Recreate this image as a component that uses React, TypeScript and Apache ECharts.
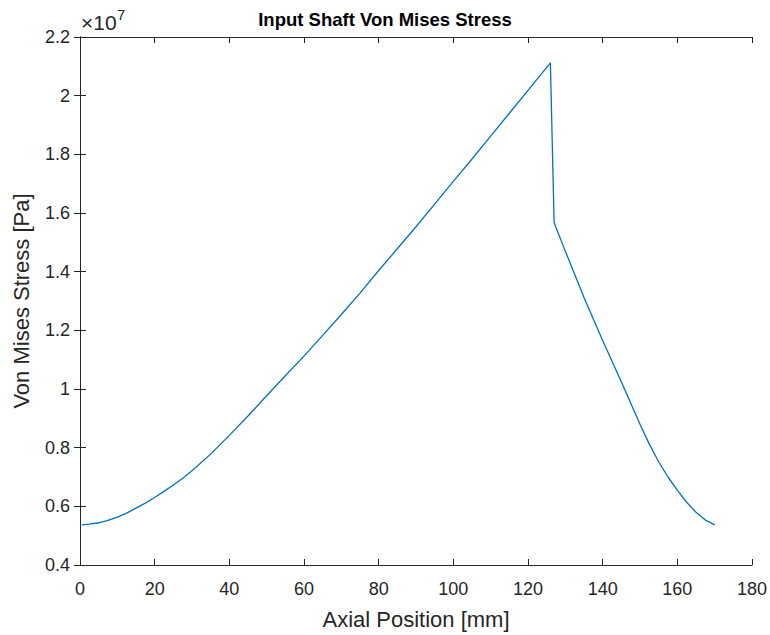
import React, { useEffect, useRef } from "react";
import * as echarts from "echarts";

const positionsMm = [0.5, 2.5, 5, 7.5, 10, 12.5, 15, 17.5, 20, 22.5, 25, 27.5, 30, 35, 40, 45, 50, 55, 60, 65, 70, 75, 80, 85, 90, 95, 100, 105, 110, 115, 120, 126, 127, 130, 135, 140, 145, 147.5, 150, 152.5, 155, 157.5, 160, 162.5, 165, 167.5, 170];
const stressPa = [0.537e7, 0.539e7, 0.544e7, 0.552e7, 0.563e7, 0.577e7, 0.594e7, 0.611e7, 0.630e7, 0.651e7, 0.673e7, 0.696e7, 0.721e7, 0.778e7, 0.842e7, 0.908e7, 0.977e7, 1.045e7, 1.112e7, 1.183e7, 1.254e7, 1.327e7, 1.404e7, 1.478e7, 1.553e7, 1.630e7, 1.708e7, 1.784e7, 1.862e7, 1.940e7, 2.018e7, 2.112e7, 1.567e7, 1.470e7, 1.312e7, 1.165e7, 1.025e7, 0.952e7, 0.880e7, 0.812e7, 0.752e7, 0.700e7, 0.655e7, 0.614e7, 0.580e7, 0.553e7, 0.537e7];

const title = "Input Shaft Von Mises Stress";
const xLabel = "Axial Position [mm]";
const yLabel = "Von Mises Stress [Pa]";
const xMin = 0, xMax = 180, xStep = 20;
const yMin = 0.4e7, yMax = 2.2e7, yStep = 0.2e7;
const yScale = 1e7;
const exponentBase = "×10";
const exponent = "7";

const FONT = "'Liberation Sans', Arial, Helvetica, sans-serif";
const AX = "#262626";

export default function App() {
  const ref = useRef<HTMLDivElement>(null);
  useEffect(() => {
    document.body.style.margin = "0";
    const chart = echarts.init(ref.current!, null, { renderer: "svg" });
    const fmtY = (v: number) => {
      const r = Math.round((v / yScale) * 10) / 10;
      return String(r);
    };
    const mirrorAxis = {
      show: true,
      axisLine: { show: true, lineStyle: { color: AX, width: 1 } },
      axisTick: { show: true, inside: true, length: 6, lineStyle: { color: AX } },
      axisLabel: { show: false },
      splitLine: { show: false },
    };
    chart.setOption({
      animation: false,
      backgroundColor: "#ffffff",
      title: {
        text: title,
        left: "center",
        top: 5,
        textStyle: { fontFamily: FONT, fontSize: 18.5, fontWeight: "bold", color: "#000" },
      },
      grid: { left: 80, right: 17, top: 37, bottom: 68, show: false },
      xAxis: [
        {
          type: "value",
          min: xMin,
          max: xMax,
          interval: xStep,
          position: "bottom",
          name: xLabel,
          nameLocation: "middle",
          nameGap: 43,
          nameTextStyle: { fontFamily: FONT, fontSize: 22, color: AX },
          axisLine: { show: true, onZero: false, lineStyle: { color: AX, width: 1 } },
          axisTick: { show: true, inside: true, length: 6, lineStyle: { color: AX } },
          axisLabel: { fontFamily: FONT, fontSize: 18, color: AX, margin: 15 },
          splitLine: { show: false },
        },
        { type: "value", min: xMin, max: xMax, interval: xStep, position: "top", ...mirrorAxis },
      ],
      yAxis: [
        {
          type: "value",
          min: yMin,
          max: yMax,
          interval: yStep,
          position: "left",
          name: yLabel,
          nameLocation: "middle",
          nameGap: 48,
          nameTextStyle: { fontFamily: FONT, fontSize: 22, color: AX },
          axisLine: { show: true, onZero: false, lineStyle: { color: AX, width: 1 } },
          axisTick: { show: true, inside: true, length: 6, lineStyle: { color: AX } },
          axisLabel: { fontFamily: FONT, fontSize: 18, color: AX, margin: 10, formatter: fmtY },
          splitLine: { show: false },
        },
        { type: "value", min: yMin, max: yMax, interval: yStep, position: "right", ...mirrorAxis },
      ],
      graphic: [
        {
          type: "text",
          x: 81,
          y: 12,
          style: {
            text: exponentBase,
            fontFamily: FONT,
            fontSize: 21,
            fill: AX,
          },
        },
        {
          type: "text",
          x: 117,
          y: 7,
          style: {
            text: exponent,
            fontFamily: FONT,
            fontSize: 15,
            fill: AX,
          },
        },
      ],
      series: [
        {
          type: "line",
          data: positionsMm.map((x, i) => [x, stressPa[i]]),
          showSymbol: false,
          symbol: "none",
          smooth: false,
          lineStyle: { color: "#0072BD", width: 1.3 },
        },
      ],
    });
    return () => chart.dispose();
  }, []);
  return <div ref={ref} style={{ width: 770, height: 635 }} />;
}
